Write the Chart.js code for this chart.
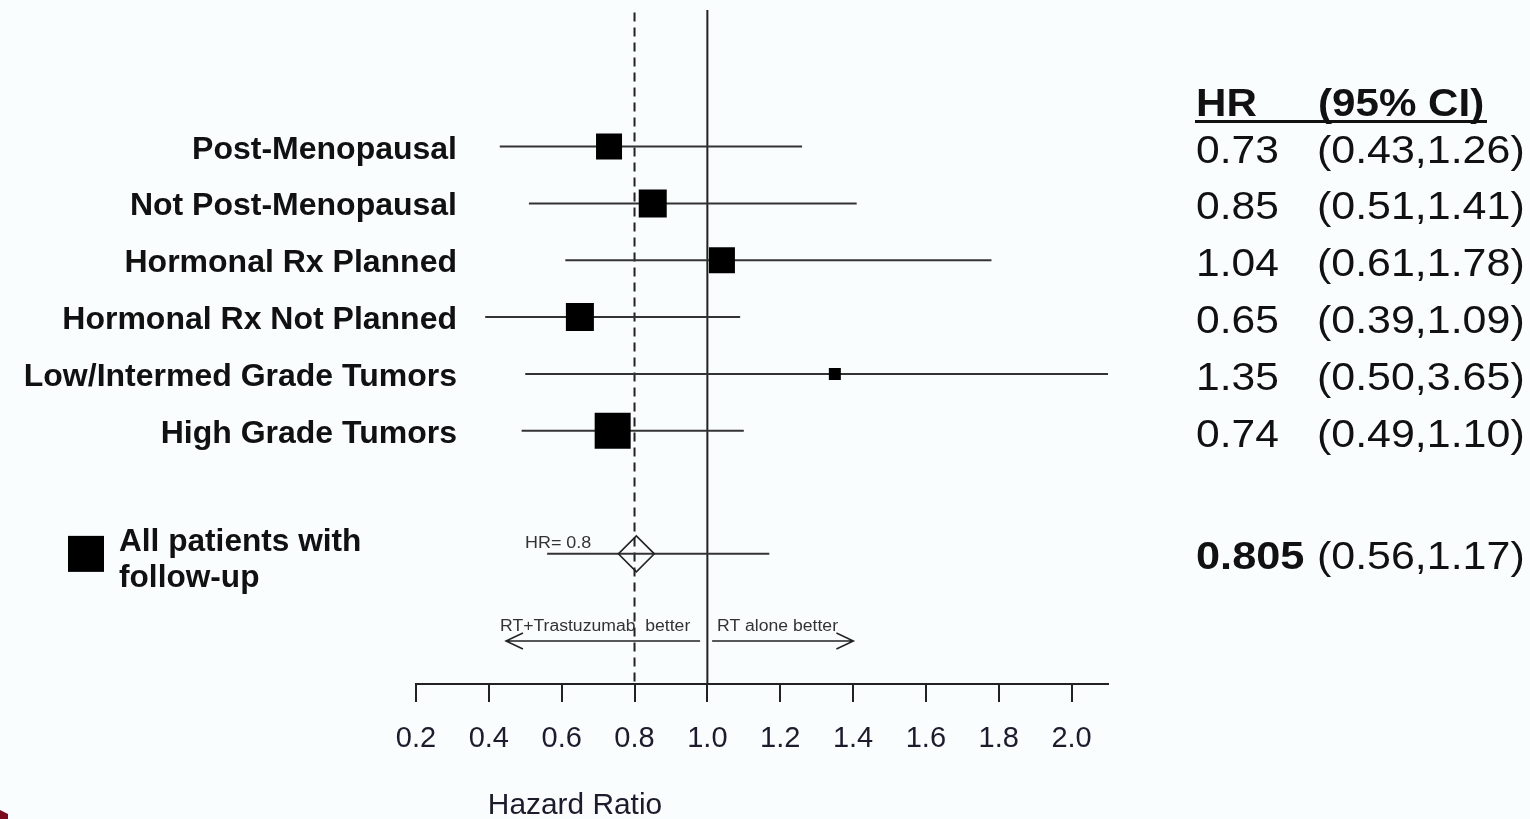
<!DOCTYPE html>
<html>
<head>
<meta charset="utf-8">
<script src="https://cdn.jsdelivr.net/npm/chart.js@4.4.1/dist/chart.umd.min.js"></script>
<style>
  html, body { margin: 0; padding: 0; background: #fafdfe; }
  #wrap { position: relative; width: 1530px; height: 819px; }
  canvas { display: block; }
</style>
</head>
<body>
<div id="wrap"><canvas id="c" width="1530" height="819"></canvas></div>
<script>
// ---------------- data ----------------
const categories = ['Post-Menopausal', 'Not Post-Menopausal', 'Hormonal Rx Planned',
  'Hormonal Rx Not Planned', 'Low/Intermed Grade Tumors', 'High Grade Tumors'];
const hrValues = [0.73, 0.85, 1.04, 0.65, 1.35, 0.74];
const hrLabels = ['0.73', '0.85', '1.04', '0.65', '1.35', '0.74'];
const ciLower = [0.43, 0.51, 0.61, 0.39, 0.50, 0.49];
const ciUpper = [1.26, 1.41, 1.78, 1.09, 3.65, 1.10];
const ciLabels = ['(0.43,1.26)', '(0.51,1.41)', '(0.61,1.78)', '(0.39,1.09)', '(0.50,3.65)', '(0.49,1.10)'];
const summaryName = ['All patients with', 'follow-up'];
const summaryHR = [0.805];
const summaryCI = [0.56, 1.17];
const summaryHRLabel = ['0.805'];
const summaryCILabel = ['(0.56,1.17)'];
const refLineValues = [0.8, 1.0];   // dashed reference, null line
const xTickValues = [0.2, 0.4, 0.6, 0.8, 1.0, 1.2, 1.4, 1.6, 1.8, 2.0];
const tableHeader = ['HR', '(95% CI)'];
const axisTitle = 'Hazard Ratio';
const arrowTexts = ['RT+Trastuzumab  better', 'RT alone better'];
const summaryNote = 'HR= 0.8';

// ---------------- styles / layout ----------------
const boxSides = [26, 28, 26, 28, 12, 36];   // marker sizes (px)
const SUMMARY_ROW = 7.165;
const Y_MIN = -2.130, Y_MAX = 9.454;
const LINE_TOP = -2.40;
const FONT = '"Liberation Sans", Arial, sans-serif';
const INK = '#111';

const datasets = [];
// boxes (on top)
datasets.push({
  type: 'scatter',
  data: hrValues.map((v, i) => ({ x: v, y: i })),
  pointStyle: 'rect',
  pointRadius: boxSides.map(s => s / Math.SQRT2),
  backgroundColor: '#000',
  borderColor: '#000',
  borderWidth: 0,
  order: 0
});
// summary diamond
datasets.push({
  type: 'scatter',
  data: summaryHR.map(v => ({ x: v, y: SUMMARY_ROW })),
  pointStyle: 'rectRot',
  pointRadius: 18,
  backgroundColor: 'rgba(0,0,0,0)',
  borderColor: '#222',
  borderWidth: 1.6,
  order: 0
});
// CI lines
categories.forEach((c, i) => {
  datasets.push({
    type: 'line',
    data: [{ x: ciLower[i], y: i }, { x: ciUpper[i], y: i }],
    borderColor: '#333',
    borderWidth: 2,
    pointRadius: 0,
    order: 2
  });
});
datasets.push({
  type: 'line',
  data: [{ x: summaryCI[0], y: SUMMARY_ROW }, { x: summaryCI[1], y: SUMMARY_ROW }],
  borderColor: '#333',
  borderWidth: 2,
  pointRadius: 0,
  order: 2
});
// reference lines
datasets.push({
  type: 'line',
  data: [{ x: refLineValues[0], y: LINE_TOP + 0.04 }, { x: refLineValues[0], y: Y_MAX }],
  borderColor: '#222',
  borderWidth: 2,
  borderDash: [9, 6],
  pointRadius: 0,
  clip: false,
  order: 3
});
datasets.push({
  type: 'line',
  data: [{ x: refLineValues[1], y: LINE_TOP }, { x: refLineValues[1], y: Y_MAX }],
  borderColor: '#222',
  borderWidth: 2,
  pointRadius: 0,
  clip: false,
  order: 3
});

function txt(ctx, s, x, y, font, align, sx) {
  ctx.save();
  ctx.font = font;
  ctx.textAlign = align || 'left';
  ctx.textBaseline = 'alphabetic';
  ctx.translate(x, y);
  ctx.scale(sx || 1, 1);
  ctx.fillText(s, 0, 0);
  ctx.restore();
}

const annotations = {
  id: 'annotations',
  afterDraw(chart) {
    const ctx = chart.ctx;
    const xs = chart.scales.x, ys = chart.scales.y;
    ctx.save();
    ctx.fillStyle = INK;
    // row labels
    categories.forEach((c, i) => {
      const y = ys.getPixelForValue(i);
      txt(ctx, c, 457, y + 12, 'bold 32px ' + FONT, 'right');
      txt(ctx, hrLabels[i], 1196, y + 16, '38px ' + FONT, 'left', 1.12);
      txt(ctx, ciLabels[i], 1317, y + 16, '38px ' + FONT, 'left', 1.13);
    });
    // header
    txt(ctx, tableHeader[0], 1196, 116, 'bold 39px ' + FONT, 'left', 1.08);
    txt(ctx, tableHeader[1], 1318, 116, 'bold 39px ' + FONT, 'left', 1.08);
    ctx.fillRect(1195, 120, 292, 3);
    // summary row
    const sy = ys.getPixelForValue(SUMMARY_ROW);
    txt(ctx, summaryHRLabel[0], 1196, sy + 15, 'bold 38px ' + FONT, 'left', 1.14);
    txt(ctx, summaryCILabel[0], 1317, sy + 15, '38px ' + FONT, 'left', 1.13);
    // legend square + summary name
    ctx.fillStyle = '#000';
    ctx.fillRect(68, sy - 18, 36, 36);
    ctx.fillStyle = INK;
    txt(ctx, summaryName[0], 119, sy - 3, 'bold 31px ' + FONT, 'left', 1.02);
    txt(ctx, summaryName[1], 119, sy + 33, 'bold 31px ' + FONT, 'left', 1.02);
    // HR note
    ctx.fillStyle = '#333';
    txt(ctx, summaryNote, 525, sy - 6, '16px ' + FONT, 'left', 1.12);
    // arrows
    const ay = 641;
    const l0 = xs.getPixelForValue(0.98), l1 = xs.getPixelForValue(0.447);
    const r0 = xs.getPixelForValue(1.013), r1 = xs.getPixelForValue(1.401);
    ctx.strokeStyle = '#222';
    ctx.lineWidth = 1.5;
    ctx.beginPath();
    ctx.moveTo(l0, ay); ctx.lineTo(l1, ay);
    ctx.moveTo(l1 + 17, ay - 8); ctx.lineTo(l1, ay); ctx.lineTo(l1 + 17, ay + 8);
    ctx.moveTo(r0, ay); ctx.lineTo(r1, ay);
    ctx.moveTo(r1 - 17, ay - 8); ctx.lineTo(r1, ay); ctx.lineTo(r1 - 17, ay + 8);
    ctx.stroke();
    txt(ctx, arrowTexts[0], 500, 631, '16px ' + FONT, 'left', 1.1);
    txt(ctx, arrowTexts[1], 717, 631, '16px ' + FONT, 'left', 1.1);
    // axis title
    ctx.fillStyle = '#1c1c2c';
    txt(ctx, axisTitle, 575, 814, '29px ' + FONT, 'center', 1.03);
    // slide artifact
    ctx.fillStyle = '#7a0a1e';
    ctx.beginPath();
    ctx.moveTo(0, 810); ctx.lineTo(8, 814); ctx.lineTo(8, 819); ctx.lineTo(0, 819);
    ctx.closePath(); ctx.fill();
    ctx.restore();
  }
};

new Chart(document.getElementById('c'), {
  data: { datasets },
  options: {
    responsive: false,
    animation: false,
    events: [],
    layout: { padding: { left: 416, right: 422, top: 12, bottom: 0 } },
    plugins: { legend: { display: false }, tooltip: { enabled: false } },
    scales: {
      x: {
        type: 'linear',
        position: 'bottom',
        min: 0.2,
        max: 2.1,
        afterBuildTicks: s => { s.ticks = xTickValues.map(v => ({ value: v })); },
        afterFit: s => { s.height = 135; },
        ticks: {
          callback: v => Number(v).toFixed(1),
          font: { family: FONT, size: 29 },
          color: '#1c1c2c',
          padding: 20,
          maxRotation: 0,
          autoSkip: false
        },
        grid: { drawOnChartArea: false, drawTicks: true, tickLength: 18, color: '#222', lineWidth: 2 },
        border: { display: true, color: '#222', width: 2 }
      },
      y: {
        type: 'linear',
        display: false,
        min: Y_MIN,
        max: Y_MAX,
        reverse: true
      }
    }
  },
  plugins: [annotations]
});
</script>
</body>
</html>
